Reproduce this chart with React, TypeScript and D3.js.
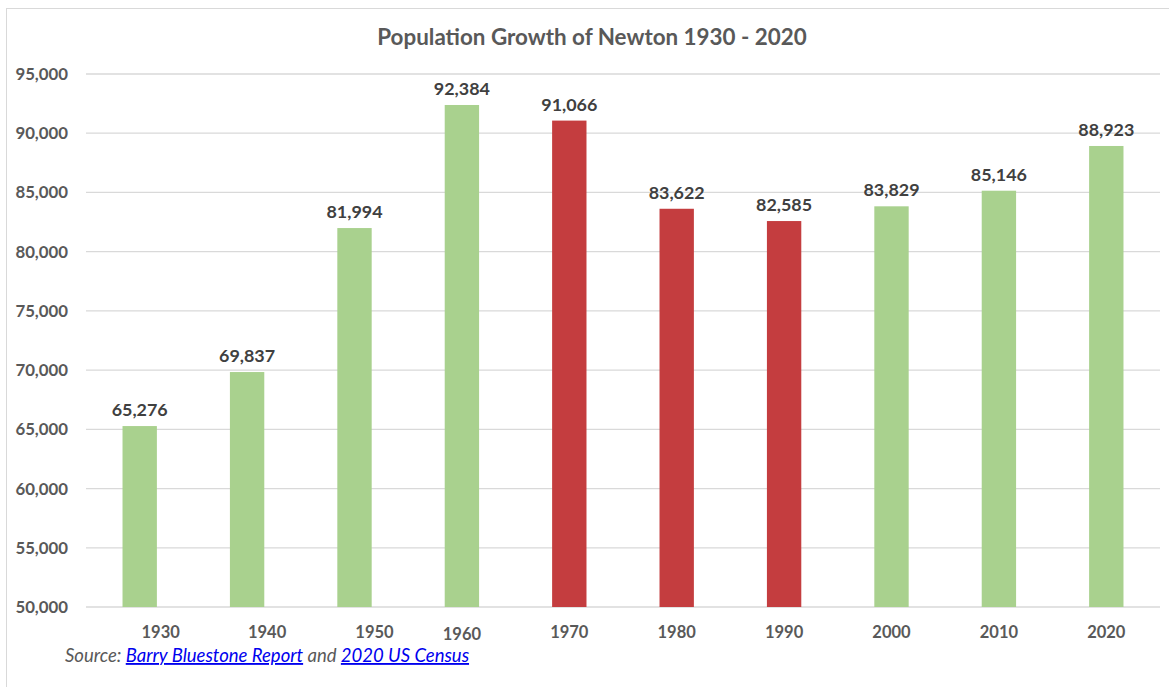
import React from "react";
import * as d3 from "d3";

const years = ["1930", "1940", "1950", "1960", "1970", "1980", "1990", "2000", "2010", "2020"];
const population = [65276, 69837, 81994, 92384, 91066, 83622, 82585, 83829, 85146, 88923];
const declining = [false, false, false, false, true, true, true, false, false, false];
const yTicks = [50000, 55000, 60000, 65000, 70000, 75000, 80000, 85000, 90000, 95000];

// layout nudges of the category labels as they appear in the source image
const labelNudgeX: Record<string, number> = { "1930": 21, "1940": 20, "1950": 20 };
const labelNudgeY: Record<string, number> = { "1960": 2 };

const W = 1169, H = 687;
const M = { left: 86, right: 1160, top: 74, bottom: 607 };
const font = "Lato, 'Open Sans', 'Liberation Sans', sans-serif";

export default function App() {
  const x = d3.scaleBand<string>().domain(years).range([M.left, M.right]).paddingInner(0.68).paddingOuter(0.34);
  const y = d3.scaleLinear().domain([50000, 95000]).range([M.bottom, M.top]);
  const fmt = d3.format(",");
  return (
    <svg width={W} height={H} style={{ position: "absolute", left: 0, top: 0, background: "#fff" }}>
      <rect x={6.5} y={8.5} width={1300} height={800} fill="#fff" stroke="#d9d9d9" />
      <text x={592} y={45} textAnchor="middle" fontFamily={font} fontWeight="bold" fontSize={22.4} fill="#595959">
        Population Growth of Newton 1930 - 2020
      </text>
      {yTicks.map((t) => (
        <g key={t}>
          <line x1={M.left} x2={M.right} y1={y(t)} y2={y(t)} stroke="#d9d9d9" strokeWidth={1.3} />
          <text x={68} y={y(t) + 6} textAnchor="end" fontFamily={font} fontWeight="bold" fontSize={16.8} fill="#595959">
            {fmt(t)}
          </text>
        </g>
      ))}
      {years.map((yr, i) => {
        const bx = x(yr)!;
        const v = population[i];
        const cx = bx + x.bandwidth() / 2;
        return (
          <g key={yr}>
            <rect x={bx} y={y(v)} width={x.bandwidth()} height={y(50000) - y(v)} fill={declining[i] ? "#c43d3f" : "#a9d18e"} />
            <text x={cx} y={y(v) - 10} textAnchor="middle" fontFamily={font} fontWeight="bold" fontSize={17.9} fill="#404040">
              {fmt(v)}
            </text>
            <text x={cx + (labelNudgeX[yr] || 0)} y={637.5 + (labelNudgeY[yr] || 0)} textAnchor="middle" fontFamily={font} fontWeight="bold" fontSize={16.5} fill="#595959">
              {yr}
            </text>
          </g>
        );
      })}
      <text x={65} y={662} fontFamily={font} fontStyle="italic" fontSize={18.5} fill="#595959">
        Source:{" "}
        <tspan fill="#0000ee" textDecoration="underline">Barry Bluestone Report</tspan>
        {" "}and{" "}
        <tspan fill="#0000ee" textDecoration="underline">2020 US Census</tspan>
      </text>
    </svg>
  );
}
